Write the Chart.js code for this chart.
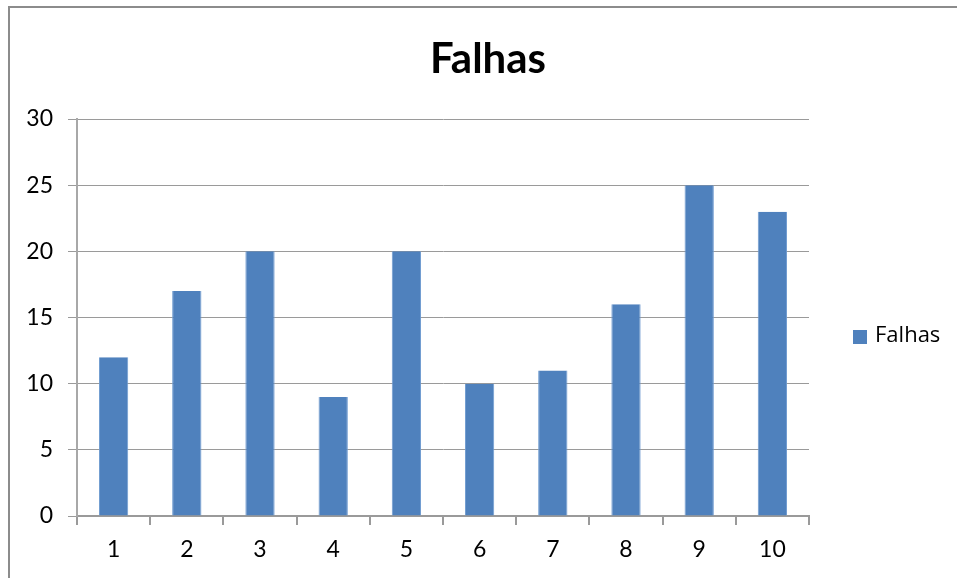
<!DOCTYPE html>
<html>
<head>
<meta charset="utf-8">
<script src="https://cdn.jsdelivr.net/npm/chart.js"></script>
<style>
  html, body { margin: 0; padding: 0; background: #fff; }
  #wrap { position: relative; width: 957px; height: 578px; overflow: hidden; }
  #frame { position: absolute; left: 8px; top: 6px; width: 2000px; height: 2000px;
           border-top: 2px solid #8c8c8c; border-left: 2px solid #8c8c8c; }
  canvas { position: absolute; left: 0; top: 0; }
</style>
</head>
<body>
<div id="wrap">
  <div id="frame"></div>
  <canvas id="grafico" width="957" height="578"></canvas>
</div>
<script>
// Dados do gráfico
const categorias = ['1', '2', '3', '4', '5', '6', '7', '8', '9', '10'];
const falhas = [12, 17, 20, 9, 20, 10, 11, 16, 25, 23];
const tituloTexto = 'Falhas';
const nomeSerie = 'Falhas';

const corBarra = '#4F81BD';
const corGrade = '#9a9a9a';
const fonte = 'Lato, "Open Sans", sans-serif';

// Título e legenda desenhados à mão
const extras = {
    id: 'extras',
    afterDraw(chart) {
        const ctx = chart.ctx;
        ctx.save();
        ctx.fillStyle = '#000';
        ctx.font = 'bold 42px ' + fonte;
        ctx.textAlign = 'center';
        ctx.textBaseline = 'alphabetic';
        ctx.fillText(tituloTexto, 488, 73);

        const ds = chart.data.datasets[0];
        ctx.fillStyle = ds.backgroundColor;
        ctx.fillRect(853, 330, 14, 14);
        ctx.fillStyle = '#000';
        ctx.font = '22px "Open Sans", sans-serif';
        ctx.textAlign = 'left';
        ctx.textBaseline = 'middle';
        ctx.fillText(ds.label, 875, 336);
        ctx.restore();
    }
};

new Chart(document.getElementById('grafico'), {
    type: 'bar',
    data: {
        labels: categorias,
        datasets: [{
            label: nomeSerie,
            data: falhas,
            backgroundColor: corBarra,
            borderColor: '#6f9bd0',
            borderWidth: { left: 1, right: 1, top: 0, bottom: 0 },
            categoryPercentage: 1,
            barPercentage: 0.4
        }]
    },
    options: {
        responsive: false,
        animation: false,
        layout: { padding: { left: 0, right: 148, top: 119, bottom: 0 } },
        plugins: {
            legend: { display: false },
            title: { display: false },
            tooltip: { enabled: false }
        },
        scales: {
            x: {
                grid: {
                    offset: true,
                    drawOnChartArea: false,
                    drawTicks: true,
                    tickLength: 9,
                    color: corGrade,
                    lineWidth: 2
                },
                border: { color: corGrade, width: 2 },
                ticks: {
                    color: '#000',
                    font: { family: fonte, size: 23 },
                    padding: 11
                },
                afterFit(scale) { scale.height = 62; }
            },
            y: {
                min: 0,
                max: 30,
                ticks: {
                    stepSize: 5,
                    color: '#000',
                    font: { family: fonte, size: 23 },
                    padding: 15
                },
                grid: {
                    color: corGrade,
                    lineWidth: 1,
                    tickLength: 9
                },
                border: { color: '#a8a8a8', width: 2 },
                afterFit(scale) { scale.width = 77; }
            }
        }
    },
    plugins: [extras]
});
</script>
</body>
</html>
